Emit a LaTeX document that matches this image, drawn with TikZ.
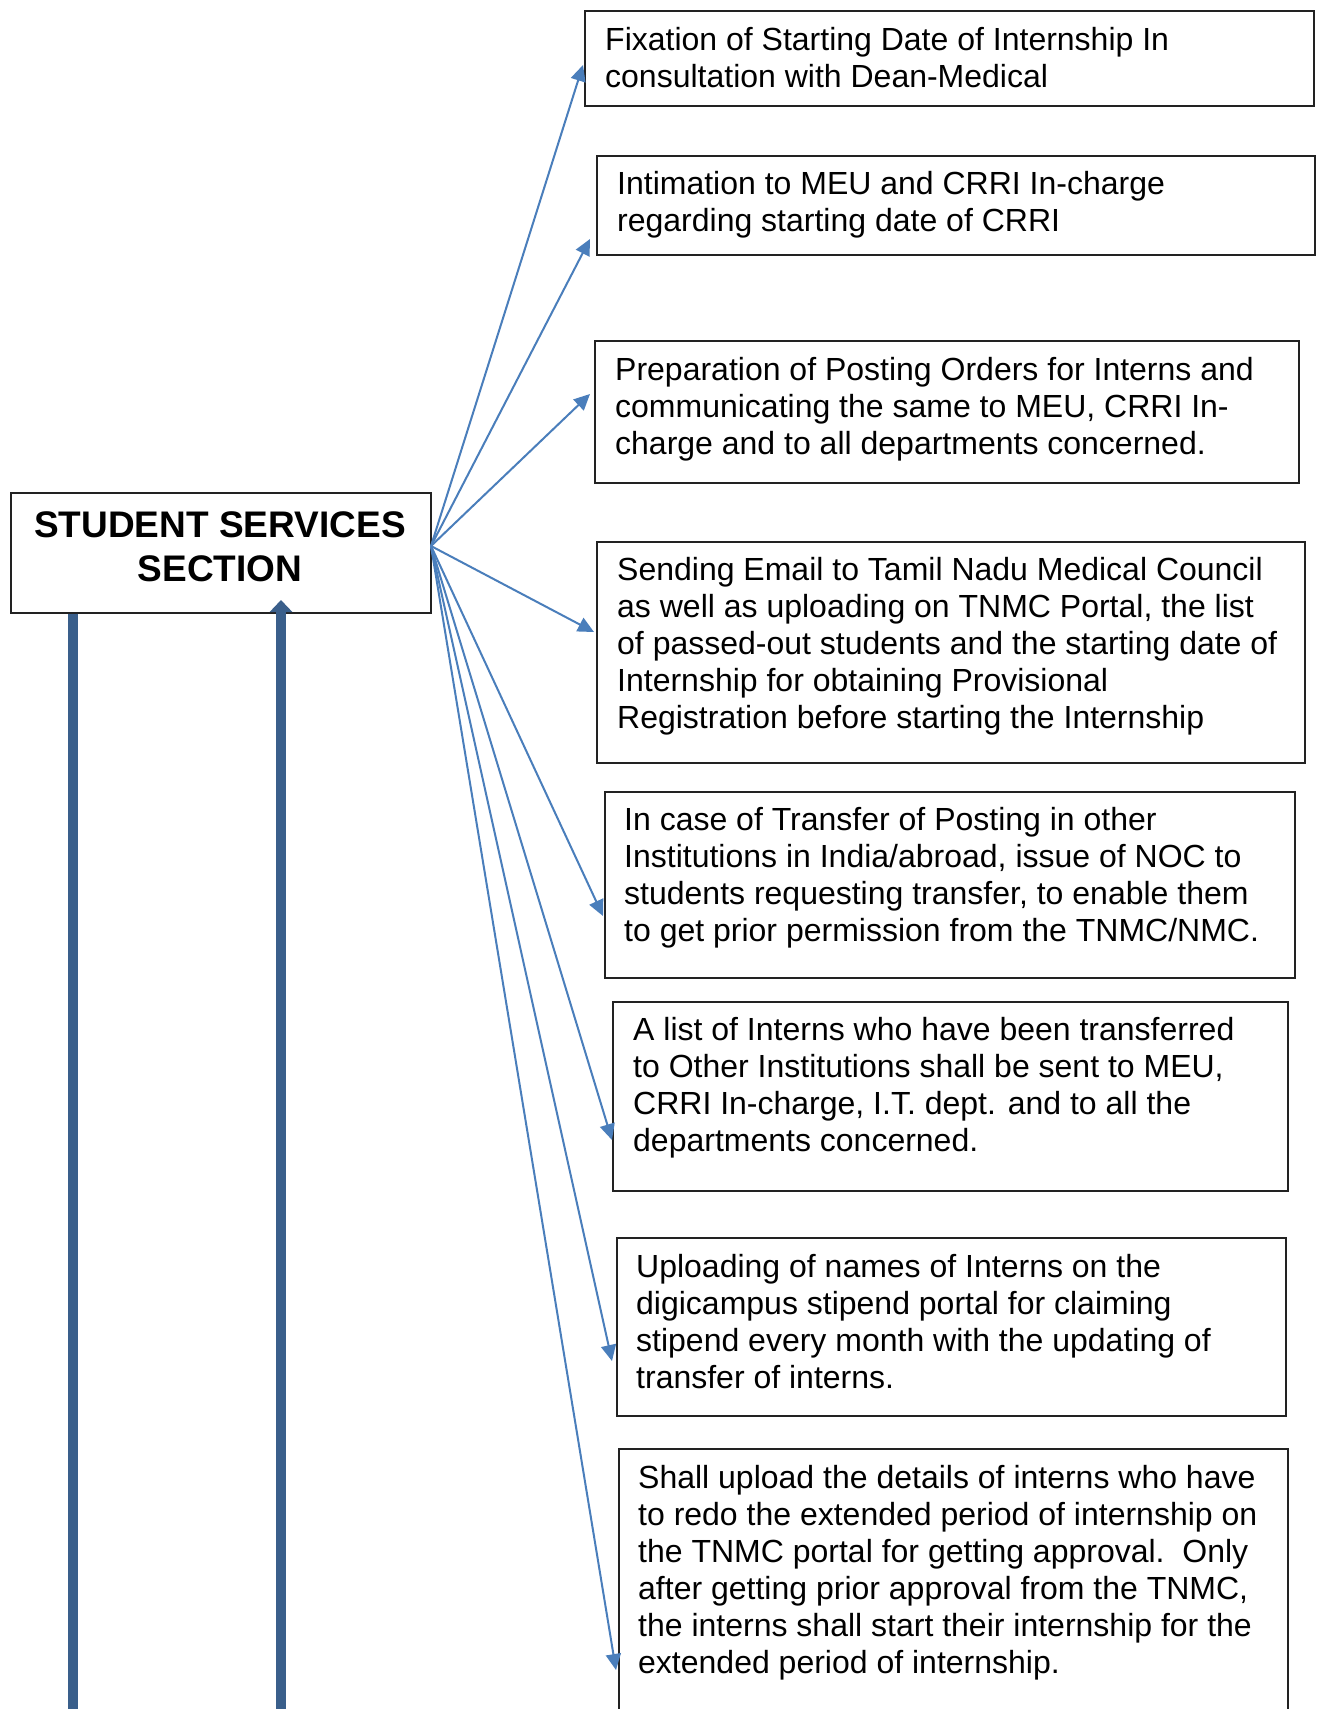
\documentclass[tikz,border=0pt]{standalone}
\usepackage{fontspec}
\setmainfont{Liberation Sans}
\usetikzlibrary{arrows.meta}
\definecolor{arrblue}{HTML}{4A7EBB}
\definecolor{thickblue}{HTML}{3A5F8B}
\definecolor{boxline}{HTML}{222222}
\tikzset{
  boxframe/.style={draw=boxline, line width=1.5pt, rectangle, inner sep=0pt, anchor=north west},
  boxtext/.style={anchor=base west, inner sep=0pt, align=left, font=\fontsize{32}{37}\selectfont},
  titletext/.style={anchor=base, inner sep=0pt, align=center, font=\fontsize{37}{44}\selectfont\bfseries},
  conn/.style={draw=arrblue, line width=2pt, -{Triangle[length=16pt,width=15pt]}},
  bigline/.style={draw=thickblue, line width=10pt},
}
\begin{document}
\begin{tikzpicture}[x=1pt,y=-1pt]
\clip (0,0) rectangle (1319,1709);
\fill[white] (0,0) rectangle (1319,1709);

% main box (text anchored at the baseline of its last line)
\node[boxframe, minimum width=420pt, minimum height=120pt] (sss) at (10,492) {};
\node[titletext] (ssst) at (220,581) {STUDENT SERVICES\\SECTION};

% right boxes
\node[boxframe, minimum width=729pt, minimum height=95pt] (b1) at (584,10) {};
\node[boxtext] (x1) at (605,87) {Fixation of Starting Date of Internship In\\consultation with Dean-Medical};

\node[boxframe, minimum width=718pt, minimum height=99pt] (b2) at (596,155) {};
\node[boxtext] (x2) at (617,231) {Intimation to MEU and CRRI In-charge\\regarding starting date of CRRI};

\node[boxframe, minimum width=704pt, minimum height=142pt] (b3) at (594,340) {};
\node[boxtext] (x3) at (615,454) {Preparation of Posting Orders for Interns and\\communicating the same to MEU, CRRI In-\\charge and to all departments concerned.};

\node[boxframe, minimum width=708pt, minimum height=221pt] (b4) at (596,541) {};
\node[boxtext] (x4) at (617,728) {Sending Email to Tamil Nadu Medical Council\\as well as uploading on TNMC Portal, the list\\of passed-out students and the starting date of\\Internship for obtaining Provisional\\Registration before starting the Internship};

\node[boxframe, minimum width=690pt, minimum height=186pt] (b5) at (604,791) {};
\node[boxtext] (x5) at (624,941) {In case of Transfer of Posting in other\\Institutions in India/abroad, issue of NOC to\\students requesting transfer, to enable them\\to get prior permission from the TNMC/NMC.};

\node[boxframe, minimum width=675pt, minimum height=189pt] (b6) at (612,1001) {};
\node[boxtext] (x6) at (633,1151) {A list of Interns who have been transferred\\to Other Institutions shall be sent to MEU,\\CRRI In-charge, I.T. dept. and to all the\\departments concerned.};

\node[boxframe, minimum width=669pt, minimum height=178pt] (b7) at (616,1237) {};
\node[boxtext] (x7) at (636,1388) {Uploading of names of Interns on the\\digicampus stipend portal for claiming\\stipend every month with the updating of\\transfer of interns.};

\node[boxframe, minimum width=669pt, minimum height=300pt] (b8) at (618,1448) {};
\node[boxtext] (x8) at (638,1673) {Shall upload the details of interns who have\\to redo the extended period of internship on\\the TNMC portal for getting approval.\ \ Only\\after getting prior approval from the TNMC,\\the interns shall start their internship for the\\extended period of internship.};

% connectors
\coordinate (src) at (431,546);
\coordinate (t1) at (583,65);
\coordinate (t2) at (590,239);
\coordinate (t3) at (590,394);
\coordinate (t4) at (594,632);
\coordinate (t5) at (603,916);
\coordinate (t6) at (612,1140);
\coordinate (t7) at (612,1361);
\coordinate (t8) at (616,1670);
\foreach \t in {t1,t2,t3,t4,t5,t6,t7,t8} {
  \draw[conn] (src) -- (\t);
}

% thick vertical lines
\coordinate (l1) at (73,1730);
\coordinate (r1) at (281,1730);
\coordinate (rt) at (281,600);
\draw[bigline] (l1 |- sss.south) -- (l1);
\draw[bigline, -{Triangle[length=12pt,width=22pt]}] (r1) -- (rt);
\end{tikzpicture}
\end{document}
